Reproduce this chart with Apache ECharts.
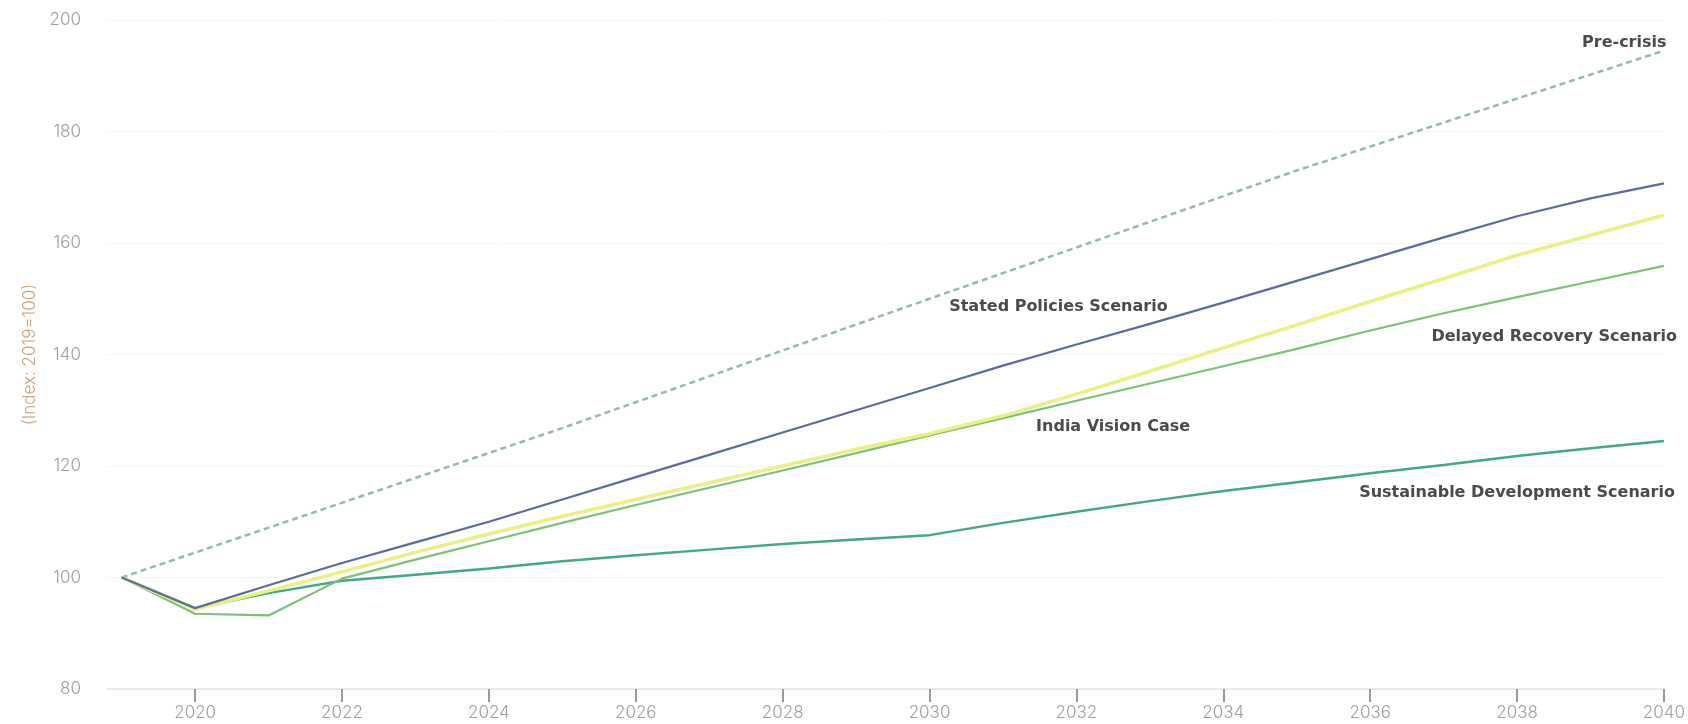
<!DOCTYPE html>
<html>
<head>
<meta charset="utf-8">
<title>India GDP scenarios, index 2019=100</title>
<script src="https://cdn.jsdelivr.net/npm/echarts@6/dist/echarts.min.js"></script>
<style>
  html, body { margin: 0; padding: 0; background: #ffffff; }
  #chart { width: 1688px; height: 724px; }
</style>
</head>
<body>
<div id="chart"></div>
<script>
// Annual points, 2019 to 2040
const years = [2019, 2020, 2021, 2022, 2023, 2024, 2025, 2026, 2027, 2028, 2029,
               2030, 2031, 2032, 2033, 2034, 2035, 2036, 2037, 2038, 2039, 2040];

const statedPolicies = [100, 94.5, 98.6, 102.6, 106.3, 110.0, 114.0, 118.0, 122.0, 126.0, 130.0,
                        134.0, 138.0, 141.8, 145.5, 149.3, 153.2, 157.1, 161.0, 164.8, 168.0, 170.7];
const indiaVision    = [100, 94.3, 97.6, 101.0, 104.5, 107.8, 111.0, 114.0, 117.0, 120.0, 123.0,
                        125.8, 129.0, 132.9, 137.0, 141.2, 145.3, 149.5, 153.6, 157.8, 161.4, 165.0];
const delayedRecovery = [100, 93.5, 93.2, 99.8, 103.2, 106.5, 109.8, 113.0, 116.1, 119.2, 122.3,
                         125.5, 128.6, 131.7, 134.8, 137.9, 141.0, 144.3, 147.4, 150.3, 153.1, 155.9];
const sustainableDev = [100, 94.5, 97.2, 99.4, 100.5, 101.6, 102.9, 104.0, 105.0, 106.0, 106.8,
                        107.6, 109.8, 111.8, 113.7, 115.5, 117.1, 118.7, 120.2, 121.8, 123.2, 124.5];

// Pre-crisis path (straight dashed trend)
const preCrisisYears = [2019, 2025, 2030, 2035, 2040];
const preCrisis      = [100, 126.8, 150.0, 173.0, 194.5];

// Tick labels
const yearTicks = [2020, 2022, 2024, 2026, 2028, 2030, 2032, 2034, 2036, 2038, 2040];
const indexTicks = [80, 100, 120, 140, 160, 180, 200];

// Scenario name labels: [year, index] anchor, alignment and small pixel nudge
const labelPreCrisis  = { text: 'Pre-crisis', at: [2039.94, 195.9], align: 'right', nudge: [7, 0] };
const labelStated     = { text: 'Stated Policies Scenario', at: [2030.24, 148.5], align: 'left', nudge: [2, 0] };
const labelDelayed    = { text: 'Delayed Recovery Scenario', at: [2040, 143.1], align: 'right', nudge: [13, 0] };
const labelVision     = { text: 'India Vision Case', at: [2031.41, 127.0], align: 'left', nudge: [3, 0] };
const labelSustain    = { text: 'Sustainable Development Scenario', at: [2040, 115.2], align: 'right', nudge: [11, 0] };

const pairs = (xs, ys) => xs.map((x, i) => [x, ys[i]]);

function nameMark(lbl) {
  return {
    silent: true,
    symbol: 'circle',
    symbolSize: 1,
    itemStyle: { color: 'rgba(0,0,0,0)' },
    data: [{
      coord: lbl.at,
      label: {
        show: true,
        position: 'inside',
        offset: lbl.nudge,
        formatter: lbl.text,
        align: lbl.align,
        verticalAlign: 'middle',
        color: '#4a4a4a',
        fontFamily: 'DejaVu Sans',
        fontWeight: 'bold',
        fontSize: 16
      }
    }]
  };
}

function lineSeries(name, data, color, width, lbl, extra) {
  return Object.assign({
    name: name,
    type: 'line',
    data: data,
    symbol: 'none',
    smooth: false,
    lineStyle: { color: color, width: width },
    markPoint: nameMark(lbl),
    z: 3
  }, extra || {});
}

const tickFont = { color: '#a29e98', fontFamily: 'Inter', fontWeight: 300, fontSize: 17 };

const chart = echarts.init(document.getElementById('chart'), null, { renderer: 'canvas' });

chart.setOption({
  backgroundColor: '#ffffff',
  animation: false,
  grid: { left: 107, right: 17, top: 20, bottom: 35, containLabel: false },
  xAxis: {
    type: 'value',
    min: 2018.8,
    max: 2040,
    axisLine: { show: true, lineStyle: { color: '#e6e6e6', width: 1.5 } },
    axisTick: {
      show: true,
      customValues: yearTicks,
      length: 13,
      lineStyle: { color: '#7a7a7a', width: 1.5 }
    },
    axisLabel: Object.assign({
      customValues: yearTicks,
      formatter: v => String(v),
      margin: 15
    }, tickFont),
    splitLine: { show: false }
  },
  yAxis: {
    type: 'value',
    min: indexTicks[0],
    max: indexTicks[indexTicks.length - 1],
    interval: 20,
    name: '(Index: 2019=100)',
    nameLocation: 'middle',
    nameGap: 68,
    nameTextStyle: { color: '#c8a47e', fontFamily: 'Inter', fontWeight: 300, fontSize: 17 },
    axisLine: { show: false },
    axisTick: { show: false },
    axisLabel: Object.assign({ margin: 26 }, tickFont),
    splitLine: { show: true, lineStyle: { color: '#f6f6f6', width: 1 } }
  },
  series: [
    lineSeries('Pre-crisis', pairs(preCrisisYears, preCrisis), '#97b6b8', 2.5, labelPreCrisis,
      { lineStyle: { color: '#97b6b8', width: 2.5, type: [6, 4] }, z: 2 }),
    lineSeries('Sustainable Development Scenario', pairs(years, sustainableDev), '#42a887', 2.5, labelSustain),
    lineSeries('Delayed Recovery Scenario', pairs(years, delayedRecovery), '#7fbf78', 2.2, labelDelayed),
    lineSeries('India Vision Case', pairs(years, indiaVision), '#eaf084', 3.5, labelVision),
    lineSeries('Stated Policies Scenario', pairs(years, statedPolicies), '#5d6b9b', 2.2, labelStated)
  ]
});
</script>
</body>
</html>
